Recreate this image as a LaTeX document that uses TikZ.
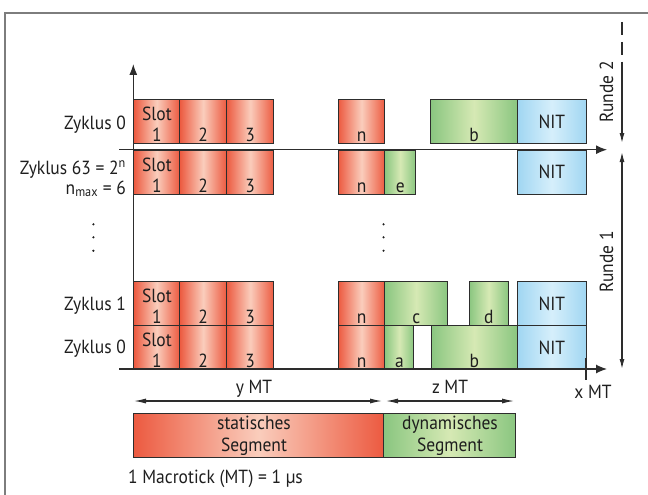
\documentclass[tikz,border=0pt]{standalone}
\usepackage{fontspec}
\setmainfont{PT Sans}[FakeStretch=0.92]
\usetikzlibrary{arrows.meta}
\definecolor{redE}{RGB}{236,90,64}
\definecolor{redC}{RGB}{250,205,188}
\definecolor{grnE}{RGB}{138,198,128}
\definecolor{grnC}{RGB}{214,233,180}
\definecolor{bluE}{RGB}{160,214,242}
\definecolor{bluC}{RGB}{214,239,251}
\definecolor{bord}{RGB}{45,45,45}
\definecolor{txt}{RGB}{30,30,30}
\definecolor{frm}{RGB}{125,125,125}
\tikzset{
  box/.style={draw=bord, line width=1.1pt, inner sep=0pt, minimum height=44pt, text=txt},
  rbox/.style={box, left color=redE, right color=redE, middle color=redC},
  gbox/.style={box, left color=grnE, right color=grnE, middle color=grnC},
  bbox/.style={box, left color=bluE, right color=bluE, middle color=bluC},
  celltext/.style={anchor=base, inner sep=0pt, text=txt},
  lbl/.style={inner sep=0pt, text=txt},
  axis/.style={draw=bord, line width=1.2pt},
  dot/.style={circle, fill=txt, inner sep=0pt, minimum size=2.4pt},
}
\newcommand\fcell[6]{%
  \pgfmathsetmacro\cw{#4-#3}%
  \node[#2, minimum width=\cw pt, anchor=north west] (#1) at (#3,#5) {};
  \node[celltext] (#1t) at ([yshift=2.5pt]#1.south) {#6};
}
\newcommand\fslot[4]{% name, x1, x2, ytop
  \fcell{#1}{rbox}{#2}{#3}{#4}{1}
  \node[celltext] (#1s) at ([yshift=23.5pt]#1.south) {Slot};
}
\newcommand\fnit[2]{% name, ytop
  \node[bbox, minimum width=69.3pt, anchor=north west] (#1) at (516.7,#2) {NIT};
}
\begin{document}
\begin{tikzpicture}[x=1pt, y=-1pt, font=\fontsize{19}{22}\selectfont]
\useasboundingbox (0,0) rectangle (648,495);
% frame
\coordinate (fa) at (5,500);
\coordinate (fb) at (5,13);
\coordinate (fc) at (650,13);
\draw[frm, line width=1.6pt] (fa) -- (fb) -- (fc);

% Row A: Zyklus 0 (Runde 2)
\fslot{a1}{133.3}{179.3}{99.3}
\fcell{a2}{rbox}{179.3}{226}{99.3}{2}
\fcell{a3}{rbox}{226}{273.3}{99.3}{3}
\fcell{an}{rbox}{337.7}{384.3}{99.3}{n}
\fcell{ab}{gbox}{430.3}{516.7}{99.3}{b}
\fnit{anit}{99.3}

% Row B: Zyklus 63
\fslot{b1}{133.3}{179.3}{149.7}
\fcell{b2}{rbox}{179.3}{226}{149.7}{2}
\fcell{b3}{rbox}{226}{273.3}{149.7}{3}
\fcell{bn}{rbox}{337.7}{384.3}{149.7}{n}
\fcell{be}{gbox}{384.3}{415}{149.7}{e}
\fnit{bnit}{149.7}

% Row C: Zyklus 1
\fslot{c1}{133.3}{179.3}{281}
\fcell{c2}{rbox}{179.3}{226}{281}{2}
\fcell{c3}{rbox}{226}{273.3}{281}{3}
\fcell{cn}{rbox}{337.7}{384.3}{281}{n}
\fcell{cc}{gbox}{384.3}{447}{281}{c}
\fcell{cd}{gbox}{468.7}{507.7}{281}{d}
\fnit{cnit}{281}

% Row D: Zyklus 0
\fslot{d1}{133.3}{179.3}{325}
\fcell{d2}{rbox}{179.3}{226}{325}{2}
\fcell{d3}{rbox}{226}{273.3}{325}{3}
\fcell{dn}{rbox}{337.7}{384.3}{325}{n}
\fcell{da}{gbox}{384.3}{413.3}{325}{a}
\fcell{db}{gbox}{430.7}{516.7}{325}{b}
\fnit{dnit}{325}

% axes
\coordinate (ytop) at (133.3,64);
\coordinate (ybot) at (133.3,369);
\coordinate (x1s) at (119.3,369);
\coordinate (x1e) at (607,369);
\coordinate (x2s) at (119.3,149.7);
\coordinate (x2e) at (607,149.7);
\draw[axis, -{Latex[length=11pt,width=8pt]}] (ybot) -- (ytop);
\draw[axis, -{Latex[length=11pt,width=9pt]}] (x1s) -- (x1e);
\draw[axis, -{Latex[length=11pt,width=9pt]}] (x2s) -- (x2e);
\coordinate (tka) at (585.7,358);
\coordinate (tkb) at (585.7,380);
\draw[bord, line width=2pt] (tka) -- (tkb);

% Runde arrows
\coordinate (r2a) at (622,22);
\coordinate (r2b) at (622,62);
\coordinate (r2c) at (622,143);
\coordinate (r1a) at (622,152);
\coordinate (r1b) at (622,369);
\draw[axis, dash pattern=on 13pt off 7pt] (r2a) -- (r2b);
\draw[axis, -{Latex[length=10pt,width=5pt]}] (r2b) -- (r2c);
\draw[axis, {Latex[length=10pt,width=5pt]}-{Latex[length=10pt,width=5pt]}] (r1a) -- (r1b);
\node[lbl, rotate=90, anchor=base] (runde2) at (613,92) {Runde 2};
\node[lbl, rotate=90, anchor=base] (runde1) at (613,262) {Runde 1};

% left labels
\node[lbl, anchor=base east] (z0a) at (126,129) {Zyklus 0};
\node[lbl, anchor=base east] (z63) at (126,174) {Zyklus 63 = 2\textsuperscript{n}};
\node[lbl, anchor=base east] (nmax) at (126,194) {n\textsubscript{max} = 6};
\node[lbl, anchor=base east] (z1) at (126,310) {Zyklus 1};
\node[lbl, anchor=base east] (z0b) at (126,353.3) {Zyklus 0};

% dots
\node[dot] (l1) at (93.4,224.3) {};
\node[dot] (l2) at (93.4,237.3) {};
\node[dot] (l3) at (93.4,250.7) {};
\node[dot] (m1) at (383.5,224.3) {};
\node[dot] (m2) at (383.5,237.3) {};
\node[dot] (m3) at (383.5,250.7) {};

% MT labels and arrows
\node[lbl, anchor=base] (ymt) at (254,393) {y MT};
\node[lbl, anchor=base] (zmt) at (450,393) {z MT};
\node[lbl, anchor=base] (xmt) at (593,398) {x MT};
\coordinate (ya) at (134,401);
\coordinate (yb) at (382,401);
\coordinate (za) at (386,401);
\coordinate (zb) at (514,401);
\draw[bord, line width=1.1pt, {Latex[length=12pt,width=5pt]}-{Latex[length=12pt,width=5pt]}] (ya) -- (yb);
\draw[bord, line width=1.1pt, {Latex[length=12pt,width=5pt]}-{Latex[length=12pt,width=5pt]}] (za) -- (zb);

% segment bars
\node[rbox, minimum width=250.6pt, anchor=north west] (stat) at (132.7,412.7) {};
\node[gbox, minimum width=131.7pt, anchor=north west] (dyn) at (383.3,412.7) {};
\node[celltext] (stat1) at (254,429.3) {statisches};
\node[celltext] (stat2) at (254,451.5) {Segment};
\node[celltext] (dyn1) at (450,429.3) {dynamisches};
\node[celltext] (dyn2) at (450,451.5) {Segment};

\node[lbl, anchor=base west] (mtdef) at (128,483.3) {1 Macrotick (MT) = 1 µs};
\end{tikzpicture}
\end{document}
